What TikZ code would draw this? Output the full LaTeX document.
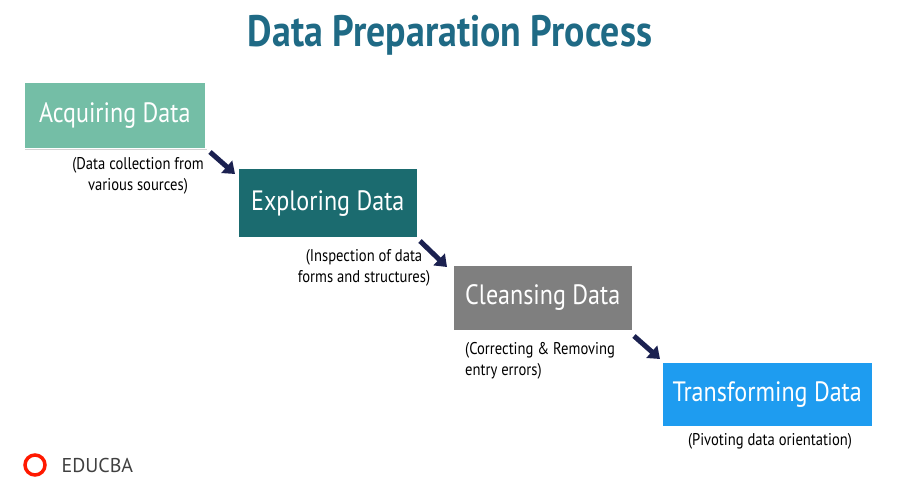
\documentclass[tikz,border=0pt]{standalone}
\usepackage{fontspec}
\setmainfont{PT Sans}[FakeStretch=0.86]
\newfontfamily\logofont{PT Sans}
\usetikzlibrary{arrows.meta,shadows}
\definecolor{cA}{HTML}{74BEA6}
\definecolor{cB}{HTML}{1B6B6F}
\definecolor{cC}{HTML}{7F7F7F}
\definecolor{cD}{HTML}{1E9CF0}
\definecolor{navy}{HTML}{1B2150}
\definecolor{ttl}{HTML}{1F6A85}
\begin{document}
\begin{tikzpicture}[x=1pt,y=-1pt,
  box/.style={draw=white,line width=1.5pt,text=white,font=\fontsize{28}{30}\selectfont,
    inner sep=0pt,anchor=north west,drop shadow={shadow xshift=1.5pt,shadow yshift=-1.5pt,opacity=.35}},
  lab/.style={font=\fontsize{17}{21}\selectfont,text=black,align=center,inner sep=0pt},
  arr/.style={navy,line width=5pt,-{Triangle[length=11pt,width=16pt]}}]
\useasboundingbox (0,0) rectangle (900,500);
\node[font=\bfseries\fontsize{44}{48}\selectfont,text=ttl] (t) at (450,35) {Data Preparation Process};
\node[box,fill=cA,minimum width=182pt,minimum height=66pt] (a) at (23,82) {Acquiring Data};
\node[box,fill=cB,minimum width=180pt,minimum height=69pt] (b) at (237,168) {Exploring Data};
\node[box,fill=cC,minimum width=180pt,minimum height=66pt] (c) at (452,264) {Cleansing Data};
\node[box,fill=cD,minimum width=211pt,minimum height=65pt] (d) at (661,361) {Transforming Data};
\node[lab] (la) at (138,176) {(Data collection from\\various sources)};
\node[lab] (lb) at (364,268) {(Inspection of data\\forms and structures)};
\node[lab,align=left,anchor=west] (lc) at (465,361) {(Correcting \& Removing\\entry errors)};
\node[lab] (ld) at (770,441) {(Pivoting data orientation)};
\coordinate (a1) at (210,152); \coordinate (a2) at (235,174);
\coordinate (b1) at (420,241); \coordinate (b2) at (447,267);
\coordinate (c1) at (634,336); \coordinate (c2) at (660,359);
\draw[arr] (a1) -- (a2);
\draw[arr] (b1) -- (b2);
\draw[arr] (c1) -- (c2);
\node[circle,draw=red!80!orange,line width=3.5pt,minimum size=20pt,inner sep=0pt] (logo) at (35,465) {};
\node[font=\logofont\fontsize{20}{22}\selectfont,text=black!75,anchor=west] (e) at (58,465) {EDUCBA};
\end{tikzpicture}
\end{document}
